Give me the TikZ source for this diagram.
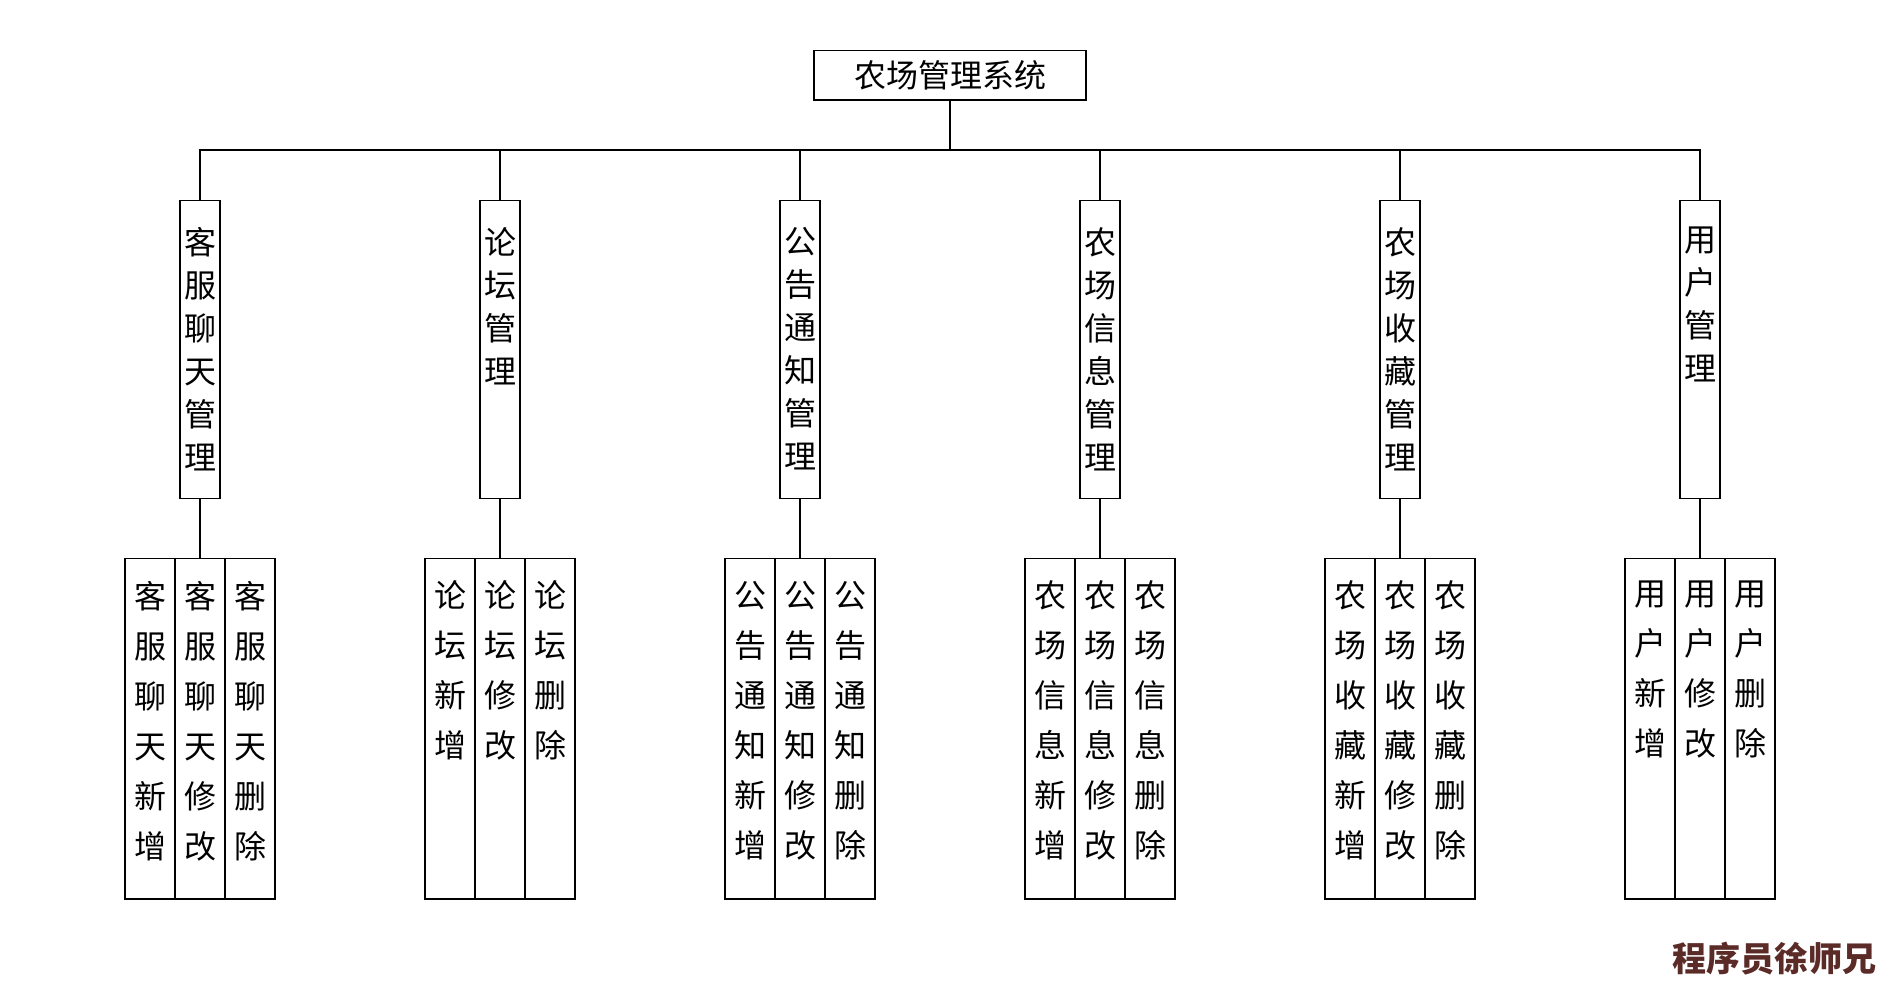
\documentclass[tikz,border=0pt]{standalone}
\usepackage{fontspec}
\newfontfamily\cjk{Noto Sans CJK SC}
\definecolor{wmcol}{HTML}{5B2B28}
\begin{document}
\begin{tikzpicture}[x=1pt,y=-1pt,
  box/.style={draw, line width=1.2pt, inner sep=0pt},
  ln/.style={line width=1.2pt},
  vtxtA/.style={inner sep=0pt, align=center, font=\cjk\fontsize{32}{43}\selectfont},
  vtxtB/.style={inner sep=0pt, align=center, font=\cjk\fontsize{32}{50}\selectfont}]
\useasboundingbox (0,0) rectangle (1900,1000);
\fill[white] (0,0) rectangle (1900,1000);

\newcommand\midbox[3]{%
  \node[box, minimum width=40pt, minimum height=297.6pt] (#1) at (#2,349.5) {};
  \node[vtxtA, anchor=north] (#1t) at ([yshift=-27pt]#1.north) {#3};
}
\newcommand\lowbox[3]{%
  \node[box, minimum width=50pt, minimum height=340.7pt] (#1) at (#2,728.65) {};
  \node[vtxtB, anchor=north] (#1t) at ([yshift=-23pt]#1.north) {#3};
}

\node[box, minimum width=272pt, minimum height=49.3pt, font=\cjk\fontsize{32}{32}\selectfont] (root) at (950,75.35) {农场管理系统};

\midbox{m1}{200}{客\\服\\聊\\天\\管\\理}
\midbox{m2}{500}{论\\坛\\管\\理}
\midbox{m3}{800}{公\\告\\通\\知\\管\\理}
\midbox{m4}{1100}{农\\场\\信\\息\\管\\理}
\midbox{m5}{1400}{农\\场\\收\\藏\\管\\理}
\midbox{m6}{1700}{用\\户\\管\\理}

\lowbox{a1}{150}{客\\服\\聊\\天\\新\\增}
\lowbox{b1}{200}{客\\服\\聊\\天\\修\\改}
\lowbox{c1}{250}{客\\服\\聊\\天\\删\\除}

\lowbox{a2}{450}{论\\坛\\新\\增}
\lowbox{b2}{500}{论\\坛\\修\\改}
\lowbox{c2}{550}{论\\坛\\删\\除}

\lowbox{a3}{750}{公\\告\\通\\知\\新\\增}
\lowbox{b3}{800}{公\\告\\通\\知\\修\\改}
\lowbox{c3}{850}{公\\告\\通\\知\\删\\除}

\lowbox{a4}{1050}{农\\场\\信\\息\\新\\增}
\lowbox{b4}{1100}{农\\场\\信\\息\\修\\改}
\lowbox{c4}{1150}{农\\场\\信\\息\\删\\除}

\lowbox{a5}{1350}{农\\场\\收\\藏\\新\\增}
\lowbox{b5}{1400}{农\\场\\收\\藏\\修\\改}
\lowbox{c5}{1450}{农\\场\\收\\藏\\删\\除}

\lowbox{a6}{1650}{用\\户\\新\\增}
\lowbox{b6}{1700}{用\\户\\修\\改}
\lowbox{c6}{1750}{用\\户\\删\\除}

\coordinate (bus) at (950,150);
\foreach \i in {1,...,6}{
  \draw[ln] (root.south) -- (bus) -| (m\i.north);
  \draw[ln] (m\i.south) -- (b\i.north);
}

\node[anchor=base east, inner sep=0pt, text=wmcol, font=\cjk\fontsize{34}{34}\selectfont\bfseries] (wm) at (1877,971) {程序员徐师兄};
\end{tikzpicture}
\end{document}
